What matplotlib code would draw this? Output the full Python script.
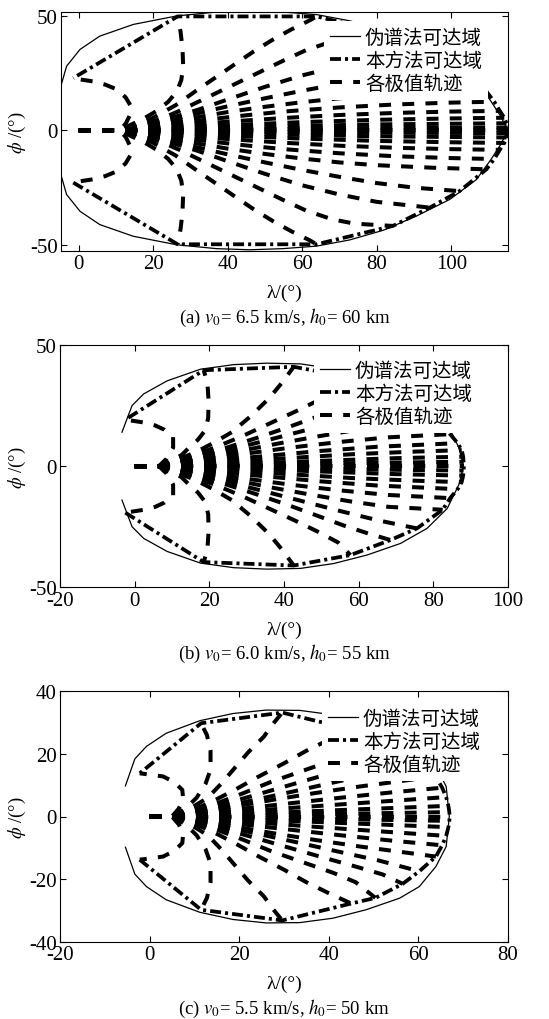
import matplotlib
matplotlib.use('Agg')
import matplotlib.pyplot as plt
from matplotlib.lines import Line2D

plt.rcParams['font.family'] = ['Liberation Serif', 'DejaVu Serif']
plt.rcParams['mathtext.fontset'] = 'stix'
plt.rcParams['axes.unicode_minus'] = False
plt.rcParams['lines.scale_dashes'] = False

legend_labels = ['伪谱法可达域', '本方法可达域', '各极值轨迹']

# ---------------- panel (a): v0 = 6.5 km/s, h0 = 60 km ----------------
# extremal trajectories, upper half (lambda, phi); lower half is the mirror image
a_traj = [
    [(0, 0), (11, 0), (12.6, 3), (13.8, 7), (13.8, 11), (12.5, 14.5), (10, 18), (7, 20), (4, 21.3), (0, 22.3), (-1.5, 22.8)],
    [(0, 0), (11, 0), (14, 2.5), (17.5, 5.2), (21, 8.6), (24, 12.5), (26.3, 17), (27.5, 22), (28, 28), (27.8, 36), (27.3, 43), (26.5, 49.7)],
    [(0, 0), (11, 0), (15, 2), (20, 5.5), (26, 11), (33, 19), (38, 24.5), (42, 29), (47, 34.5), (52, 39.5), (57, 44), (62, 48), (63.8, 49.7)],
    [(0, 0), (11, 0), (16, 2), (22, 5), (27, 8.5), (34, 14), (41, 19.5), (48, 25), (55, 30.5), (61, 35), (68, 38.8), (74, 40.7), (84.3, 41.7)],
    [(0, 0), (11, 0), (17, 2), (24, 5), (32, 9), (40, 13.5), (50, 19), (60, 24), (70, 28), (80, 31.2), (94.2, 33.7)],
    [(0, 0), (11, 0), (17, 1.8), (24, 4.3), (32, 7.5), (40, 10.5), (50, 14), (60, 17.3), (70, 20.3), (80, 23), (90, 25), (102.2, 26.5)],
    [(0, 0), (11, 0), (17, 1.5), (24, 3.5), (32, 5.8), (40, 8), (50, 10.3), (60, 12.3), (70, 14), (80, 15.2), (95, 16.3), (109.4, 17)],
    [(0, 0), (11, 0), (17, 1.2), (25, 2.8), (35, 4.8), (45, 6.6), (55, 8.2), (70, 10), (85, 11.3), (100, 12.1), (111.5, 12.5)],
    [(0, 0), (11, 0), (18, 0.9), (27, 2.1), (40, 3.8), (55, 5.4), (70, 6.7), (85, 7.6), (100, 8.2), (113, 8.5)],
    [(0, 0), (11, 0), (18, 0.6), (30, 1.5), (45, 2.6), (60, 3.6), (80, 4.6), (100, 5.2), (114.2, 5.5)],
    [(0, 0), (11, 0), (20, 0.4), (35, 1.0), (55, 1.8), (80, 2.6), (114.8, 3.1)],
    [(0, 0), (11, 0), (25, 0.2), (50, 0.6), (80, 1.0), (115.1, 1.2)],
]
a_center = [(0, 0), (115.2, 0)]
# pseudo-spectral reachable boundary, upper half
a_pseudo = [(-4.8, 19.5), (-3.3, 28), (0.3, 35.3), (5.6, 41.1), (14.6, 46.2), (26.2, 49.9), (36.9, 51.6),
            (45.9, 52.1), (54.8, 51.6), (63.8, 50.5), (72.7, 47.8), (81.7, 43.6), (90.6, 37.4),
            (99.6, 30.1), (106.7, 21.5), (110.5, 13), (113.3, 6), (114.8, 1), (115.2, 0)]
a_xlim, a_ylim = (-4.8, 115.2), (-52.5, 51.5)
a_xticks, a_yticks = [0, 20, 40, 60, 80, 100], [-50, 0, 50]
a_caption = r'(a) $v_{\mathit{0}}$= 6.5 km/s, $h_{\mathit{0}}$= 60 km'

# ---------------- panel (b): v0 = 6.0 km/s, h0 = 55 km ----------------
b_traj = [
    [(0, 0), (6.5, 0), (8.5, 3), (10.3, 7.6), (10.3, 12), (8, 15), (5.5, 16.8), (2.5, 18), (0, 18.6), (-2.5, 19.2)],
    [(0, 0), (6.5, 0), (10, 2.5), (12.5, 4.5), (14.5, 7.5), (17, 11), (19, 15), (19.7, 20), (19.8, 27), (19.5, 34), (18.5, 39.6)],
    [(0, 0), (6.5, 0), (11, 2.5), (16, 5.5), (21, 9.5), (26, 14), (31, 20.5), (36, 28), (39.5, 34.5), (42.6, 41)],
    [(0, 0), (6.5, 0), (11, 2), (16, 4.5), (22, 8), (29, 12.5), (36, 17.5), (43, 22.5), (49, 27), (54.5, 31.5), (57.8, 36.7)],
    [(0, 0), (6.5, 0), (12, 2), (18, 4.5), (25, 7.8), (33, 11.8), (41, 16), (49, 20.5), (56, 24.5), (62, 27.5), (68.5, 30.5)],
    [(0, 0), (6.5, 0), (12, 1.8), (18, 4), (26, 7), (35, 10.5), (45, 14.5), (55, 18.5), (65, 22.3), (75.6, 25.7)],
    [(0, 0), (6.5, 0), (12, 1.6), (19, 3.6), (28, 6.2), (38, 9.2), (48, 12), (58, 14.6), (68, 16.8), (82.5, 18)],
    [(0, 0), (6.5, 0), (12, 1.3), (20, 3), (30, 5.2), (42, 7.7), (55, 10), (68, 11.9), (84.5, 13.2)],
    [(0, 0), (6.5, 0), (13, 1), (22, 2.3), (35, 4.2), (50, 6.3), (65, 8), (86.5, 9.5)],
    [(0, 0), (6.5, 0), (14, 0.7), (25, 1.7), (40, 3.2), (58, 4.9), (75, 6), (87.6, 6.6)],
    [(0, 0), (6.5, 0), (15, 0.4), (30, 1.1), (50, 2.2), (70, 3.3), (88, 3.9)],
    [(0, 0), (6.5, 0), (20, 0.2), (45, 0.8), (70, 1.5), (88.1, 1.8)],
]
b_center = [(0, 0), (88.2, 0)]
b_pseudo = [(-3.4, 14), (-0.7, 25), (2.4, 29.8), (8.7, 35.2), (17.6, 40), (26.5, 41.9), (35.4, 42.5),
            (44.4, 42.2), (53.3, 40.2), (62.2, 36.7), (71.2, 31.9), (78.3, 25.7), (83.7, 17.5),
            (86.8, 7.8), (88.1, 0)]
b_xlim, b_ylim = (-20, 100), (-50, 50)
b_xticks, b_yticks = [-20, 0, 20, 40, 60, 80, 100], [-50, 0, 50]
b_caption = r'(b) $v_{\mathit{0}}$= 6.0 km/s, $h_{\mathit{0}}$= 55 km'

# ---------------- panel (c): v0 = 5.5 km/s, h0 = 50 km ----------------
c_traj = [
    [(0, 0), (5, 0), (6.5, 2.5), (7.5, 5.5), (7.3, 8.5), (5.5, 11), (3, 12.8), (0, 13.4), (-2.2, 13.8)],
    [(0, 0), (5, 0), (8, 2.5), (10.5, 6), (12.5, 10.5), (13.6, 15), (13.6, 21), (12.8, 26), (11.5, 29.8)],
    [(0, 0), (5, 0), (9, 2.5), (13, 6), (16, 10.5), (19, 15.5), (22, 20.5), (25.5, 25.5), (27.5, 29.5), (29.6, 33.2)],
    [(0, 0), (5, 0), (9.5, 2), (14, 4.8), (19, 8.5), (24, 12.5), (30, 17), (35, 21), (40, 24.5), (45, 27.8)],
    [(0, 0), (5, 0), (10, 1.8), (15, 4.2), (21, 7.5), (27, 11), (34, 14.5), (41, 18), (46, 21), (50.4, 26)],
    [(0, 0), (5, 0), (10, 1.6), (16, 3.8), (23, 6.6), (30, 9.5), (38, 12.8), (46, 16), (52, 18.5), (56.5, 21.5)],
    [(0, 0), (5, 0), (10, 1.4), (17, 3.3), (25, 5.8), (34, 8.6), (43, 11.5), (51, 14), (60.2, 17.5)],
    [(0, 0), (5, 0), (10, 1.2), (18, 3), (27, 5.2), (37, 7.5), (47, 9.6), (56, 11.3), (63.9, 12.8)],
    [(0, 0), (5, 0), (11, 1), (20, 2.4), (30, 4), (42, 5.9), (54, 7.7), (65.3, 9.2)],
    [(0, 0), (5, 0), (12, 0.7), (22, 1.7), (35, 3.1), (50, 4.6), (66.2, 6.2)],
    [(0, 0), (5, 0), (14, 0.4), (28, 1.2), (45, 2.2), (66.7, 3.4)],
    [(0, 0), (5, 0), (20, 0.3), (40, 0.8), (66.9, 1.4)],
]
c_center = [(0, 0), (67, 0)]
c_pseudo = [(-5.4, 9.8), (-3.3, 18.4), (-0.7, 22.4), (3.7, 26.6), (11.2, 30.6), (18.6, 32.9), (26, 34),
            (33.5, 33.9), (40.9, 32.5), (48.3, 29.8), (55.8, 26.1), (60.2, 22.4), (63.9, 16),
            (66.2, 9.6), (66.9, 0)]
c_xlim, c_ylim = (-20, 80), (-40, 40)
c_xticks, c_yticks = [-20, 0, 20, 40, 60, 80], [-40, -20, 0, 20, 40]
c_caption = r'(c) $v_{\mathit{0}}$= 5.5 km/s, $h_{\mathit{0}}$= 50 km'

# ---------------- drawing ----------------
W, H = 549, 1020
fig = plt.figure(figsize=(W / 100, H / 100), dpi=100)

TRAJ_KW = dict(color='black', lw=2.9, dashes=(8.6, 8.1), dash_capstyle='butt', solid_capstyle='butt')
BOUND_KW = dict(color='black', lw=2.7, dashes=(7.9, 2.9, 2.2, 2.9), dash_capstyle='butt')
PSEUDO_KW = dict(color='black', lw=0.9)

panels = [
    # traj, center, pseudo, xlim, ylim, xticks, yticks, caption, rect(px: left, top, right, bottom), legend anchor(px)
    (a_traj, a_center, a_pseudo, a_xlim, a_ylim, a_xticks, a_yticks, a_caption, (61, 13.3, 508, 251.7), (324, 22)),
    (b_traj, b_center, b_pseudo, b_xlim, b_ylim, b_xticks, b_yticks, b_caption, (60, 346, 508, 588.3), (314, 355)),
    (c_traj, c_center, c_pseudo, c_xlim, c_ylim, c_xticks, c_yticks, c_caption, (60, 692.3, 508, 942.7), (322, 703)),
]

for traj, center, pseudo, xlim, ylim, xticks, yticks, caption, rect, leg in panels:
    l, t, r, b = rect
    ax = fig.add_axes([l / W, 1 - b / H, (r - l) / W, (b - t) / H])

    # pseudo-spectral boundary (upper half then mirrored lower half)
    full = pseudo + [(p[0], -p[1]) for p in reversed(pseudo[:-1])]
    ax.plot([p[0] for p in full], [p[1] for p in full], **PSEUDO_KW)

    # extremal trajectories
    ax.plot([p[0] for p in center], [p[1] for p in center], **TRAJ_KW)
    for pts in traj:
        lam = [p[0] for p in pts]
        phi = [p[1] for p in pts]
        ax.plot(lam, phi, **TRAJ_KW)
        ax.plot(lam, [-v for v in phi], **TRAJ_KW)

    # method's reachable boundary: joins the trajectory end points
    ends = [pts[-1] for pts in traj]
    bound = [(p[0], -p[1]) for p in ends] + [center[-1]] + list(reversed(ends))
    ax.plot([p[0] for p in bound], [p[1] for p in bound], **BOUND_KW)

    ax.set_xlim(*xlim)
    ax.set_ylim(*ylim)
    ax.set_xticks(xticks)
    ax.set_yticks(yticks)
    ax.tick_params(direction='in', top=True, right=True, length=4, width=0.8,
                   labelsize=15, pad=2.5)
    for s in ax.spines.values():
        s.set_linewidth(0.8)

    handles = [Line2D([], [], **PSEUDO_KW), Line2D([], [], **BOUND_KW), Line2D([], [], **TRAJ_KW)]
    ax.legend(handles, legend_labels, loc='upper left',
              bbox_to_anchor=((leg[0] - l) / (r - l), (b - leg[1]) / (b - t)),
              frameon=True, fancybox=False, framealpha=1, edgecolor='none', facecolor='white',
              prop={'family': ['Noto Sans CJK SC'], 'size': 14},
              handlelength=1.55, handletextpad=0.26, labelspacing=0.1, borderpad=0.3,
              borderaxespad=0)

    cx = (l + r) / 2 / W
    fig.text(cx, 1 - (b + 42) / H, 'λ/(°)', ha='center', va='center', fontsize=14)
    fig.text(17 / W, 1 - ((t + b) / 2) / H, r'$\phi$ /(°)', ha='center', va='center',
             rotation=90, fontsize=13.5)
    fig.text(cx, 1 - (b + 66) / H, caption, ha='center', va='center', fontsize=13.5)

fig.savefig('out.png', dpi=100)
